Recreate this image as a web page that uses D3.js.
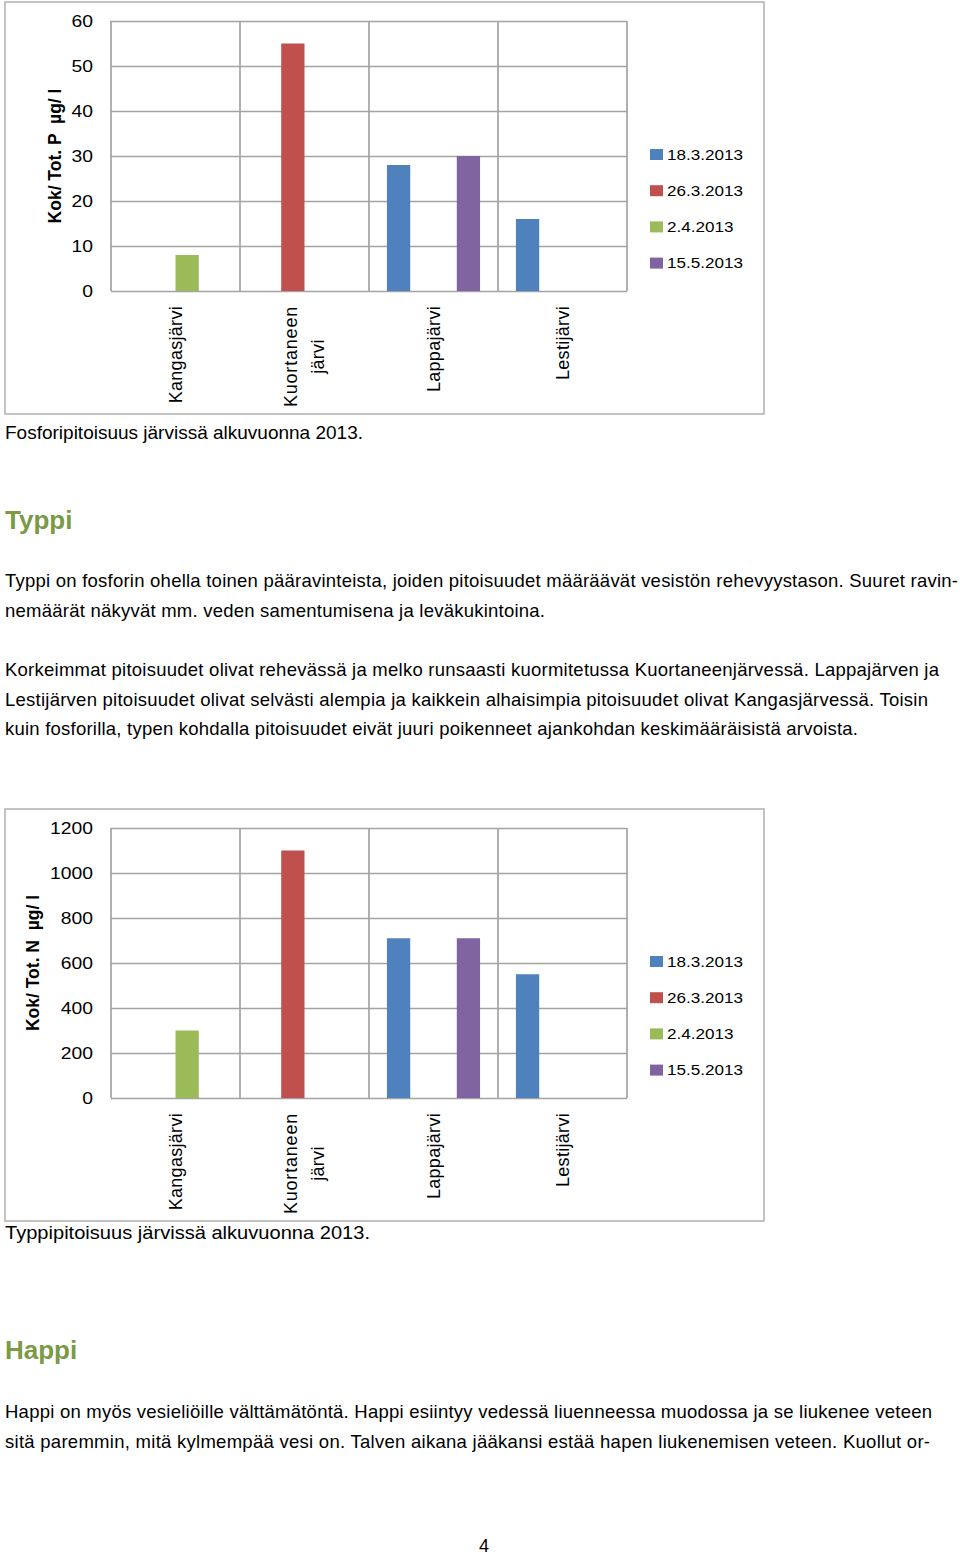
<!DOCTYPE html>
<html>
<head>
<meta charset="utf-8">
<script src="https://cdn.jsdelivr.net/npm/d3@7"></script>
<style>
  html, body { margin: 0; padding: 0; background: #fff; }
  svg { display: block; font-family: "Liberation Sans", Arial, Helvetica, sans-serif; }
</style>
</head>
<body>
<svg id="page" width="960" height="1557"></svg>
<script>
// ---------------- DATA ----------------
const categories = ["Kangasjärvi", "Kuortaneen järvi", "Lappajärvi", "Lestijärvi"];
const categoryLabelLines = [["Kangasjärvi"], ["Kuortaneen", "järvi"], ["Lappajärvi"], ["Lestijärvi"]];
const seriesNames = ["18.3.2013", "26.3.2013", "2.4.2013", "15.5.2013"];
const seriesColors = ["#4f81bd", "#c0504d", "#9bbb59", "#8064a2"];

// Phosphorus (Kok/ Tot. P µg/l), one array per sampling date, order = categories
const pSeries_18_3 = [null, null, 28, 16];
const pSeries_26_3 = [null, 55, null, null];
const pSeries_2_4  = [8, null, null, null];
const pSeries_15_5 = [null, null, 30, null];
const pTicks = [0, 10, 20, 30, 40, 50, 60];

// Nitrogen (Kok/ Tot. N µg/l)
const nSeries_18_3 = [null, null, 710, 550];
const nSeries_26_3 = [null, 1100, null, null];
const nSeries_2_4  = [300, null, null, null];
const nSeries_15_5 = [null, null, 710, null];
const nTicks = [0, 200, 400, 600, 800, 1000, 1200];

const pTitle = "Kok/ Tot. P  µg/ l";
const nTitle = "Kok/ Tot. N  µg/ l";
const pCaption = "Fosforipitoisuus järvissä alkuvuonna 2013.";
const nCaption = "Typpipitoisuus järvissä alkuvuonna 2013.";

const heading1 = "Typpi";
const typpiPara1 = [
  "Typpi on fosforin ohella toinen pääravinteista, joiden pitoisuudet määräävät vesistön rehevyystason. Suuret ravin-",
  "nemäärät näkyvät mm. veden samentumisena ja leväkukintoina."
];
const typpiPara2 = [
  "Korkeimmat pitoisuudet olivat rehevässä ja melko runsaasti kuormitetussa Kuortaneenjärvessä. Lappajärven ja",
  "Lestijärven pitoisuudet olivat selvästi alempia ja kaikkein alhaisimpia pitoisuudet olivat Kangasjärvessä. Toisin",
  "kuin fosforilla, typen kohdalla pitoisuudet eivät juuri poikenneet ajankohdan keskimääräisistä arvoista."
];
const heading2 = "Happi";
const happiPara = [
  "Happi on myös vesieliöille välttämätöntä. Happi esiintyy vedessä liuenneessa muodossa ja se liukenee veteen",
  "sitä paremmin, mitä kylmempää vesi on. Talven aikana jääkansi estää hapen liukenemisen veteen. Kuollut or-"
];
const pageNumber = "4";

// ---------------- DRAW ----------------
const svg = d3.select("#page");
svg.append("rect").attr("width", 960).attr("height", 1557).attr("fill", "#fff");

function stretchText(sel, k) {
  sel.each(function () {
    const len = this.getComputedTextLength();
    if (len > 0) {
      this.setAttribute("textLength", len * k);
      this.setAttribute("lengthAdjust", "spacingAndGlyphs");
    }
  });
}

function drawChart(cfg) {
  const g = svg.append("g");
  const { top, seriesData, ticks, title } = cfg;
  const frame = { x: 5, y: top, w: 759, h: 412 };
  const plot = { x0: 111, x1: 627, y0: top + 19, y1: top + 289 };

  g.append("rect")
    .attr("x", frame.x).attr("y", frame.y)
    .attr("width", frame.w).attr("height", frame.h)
    .attr("fill", "#fff").attr("stroke", "#b5b5b5").attr("stroke-width", 1.6);

  const x = d3.scaleBand().domain(categories).range([plot.x0, plot.x1]).padding(0);
  const xs = d3.scaleBand().domain(seriesNames).range([0, x.bandwidth()])
    .paddingInner(0).paddingOuter(0.77);
  const y = d3.scaleLinear().domain([ticks[0], ticks[ticks.length - 1]]).range([plot.y1, plot.y0]);

  // horizontal grid
  const grid = g.append("g").attr("transform", `translate(${plot.x0},0)`)
    .call(d3.axisLeft(y).tickValues(ticks).tickSize(-(plot.x1 - plot.x0)).tickFormat(""));
  grid.select(".domain").remove();
  grid.selectAll("line").attr("stroke", "#a3a3a3").attr("stroke-width", 1.3);

  // vertical grid at category boundaries
  const bounds = categories.map(c => x(c)).concat([plot.x1]);
  g.append("g").selectAll("line").data(bounds).join("line")
    .attr("x1", d => d).attr("x2", d => d)
    .attr("y1", plot.y0).attr("y2", plot.y1)
    .attr("stroke", "#a3a3a3").attr("stroke-width", 1.7);

  // bars
  const flat = [];
  seriesData.forEach((arr, si) => arr.forEach((v, ci) => {
    if (v != null) flat.push({ s: seriesNames[si], c: categories[ci], v, color: seriesColors[si] });
  }));
  g.append("g").selectAll("rect").data(flat).join("rect")
    .attr("x", d => x(d.c) + xs(d.s))
    .attr("width", xs.bandwidth())
    .attr("y", d => y(d.v))
    .attr("height", d => y(0) - y(d.v))
    .attr("fill", d => d.color);

  // y axis labels
  const ya = g.append("g").attr("transform", `translate(${plot.x0},0)`)
    .call(d3.axisLeft(y).tickValues(ticks).tickSize(0).tickPadding(18).tickFormat(d3.format("d")));
  ya.select(".domain").remove();
  ya.selectAll("text").attr("font-size", 16.5).attr("fill", "#000")
    .attr("font-family", '"Liberation Sans", Arial, sans-serif');
  stretchText(ya.selectAll("text"), 1.17);

  // x labels (rotated)
  const lineH = 27;
  categories.forEach((c, i) => {
    const cx = x(c) + x.bandwidth() / 2;
    const lines = categoryLabelLines[i];
    const n = lines.length;
    const nodes = [];
    lines.forEach((ln, j) => {
      const bx = cx + 6 + (j - (n - 1) / 2) * lineH;
      const t = g.append("text")
        .attr("transform", `translate(${bx},${plot.y1 + 15}) rotate(-90)`)
        .attr("text-anchor", n > 1 ? "middle" : "end")
        .attr("font-size", 18).attr("fill", "#000")
        .attr("letter-spacing", ln === "Kuortaneen" ? 0.8 : 0.3)
        .text(ln);
      nodes.push({ node: t.node(), bx });
    });
    if (n > 1) {
      let maxLen = 0;
      nodes.forEach(o => { maxLen = Math.max(maxLen, o.node.getComputedTextLength()); });
      nodes.forEach(o => {
        o.node.setAttribute("transform", `translate(${o.bx},${plot.y1 + 15 + maxLen / 2}) rotate(-90)`);
      });
    }
  });

  // y title
  g.append("text")
    .attr("transform", `translate(${cfg.titleX},${cfg.titleY}) rotate(-90)`)
    .attr("text-anchor", "middle")
    .style("white-space", "pre")
    .attr("font-size", 17.5).attr("font-weight", "bold").attr("fill", "#000")
    .text(title);

  // legend
  const lg = g.append("g");
  seriesNames.forEach((s, i) => {
    const cy = top + 152 + i * 36.2;
    lg.append("rect").attr("x", 650).attr("y", cy - 5).attr("width", 13).attr("height", 11)
      .attr("fill", seriesColors[i]);
    lg.append("text").attr("x", 667).attr("y", cy + 5.5)
      .attr("font-size", 15).attr("fill", "#000").text(s);
  });
  stretchText(lg.selectAll("text"), 1.14);

  // caption
  g.append("text").attr("x", 5).attr("y", cfg.captionY)
    .attr("font-size", 19).attr("fill", "#000")
    .attr("textLength", cfg.captionWidth).attr("lengthAdjust", "spacingAndGlyphs")
    .text(cfg.caption);
}

drawChart({
  top: 2,
  seriesData: [pSeries_18_3, pSeries_26_3, pSeries_2_4, pSeries_15_5],
  ticks: pTicks, title: pTitle, titleX: 61, titleY: 156,
  caption: pCaption, captionY: 439, captionWidth: 358
});
drawChart({
  top: 809,
  seriesData: [nSeries_18_3, nSeries_26_3, nSeries_2_4, nSeries_15_5],
  ticks: nTicks, title: nTitle, titleX: 39, titleY: 963,
  caption: nCaption, captionY: 1239, captionWidth: 365
});

// Body text
const bodyFont = 18.5;
function heading(txt, yb) {
  svg.append("text").attr("x", 5).attr("y", yb).attr("font-size", 26)
    .attr("font-weight", "bold").attr("fill", "#7a9a45").text(txt);
}
function para(lines, y0, ends) {
  lines.forEach((ln, i) => {
    svg.append("text").attr("x", 5).attr("y", y0 + i * 29.6)
      .attr("font-size", bodyFont).attr("fill", "#000")
      .attr("textLength", ends[i] - 5).attr("lengthAdjust", "spacing")
      .text(ln);
  });
}
heading(heading1, 529);
para(typpiPara1, 587, [958, 545]);
para(typpiPara2, 676, [939, 928, 858]);
heading(heading2, 1359);
para(happiPara, 1418, [932, 930]);
svg.append("text").attr("x", 484).attr("y", 1552).attr("text-anchor", "middle")
  .attr("font-size", 18).attr("fill", "#000").text(pageNumber);
</script>
</body>
</html>
